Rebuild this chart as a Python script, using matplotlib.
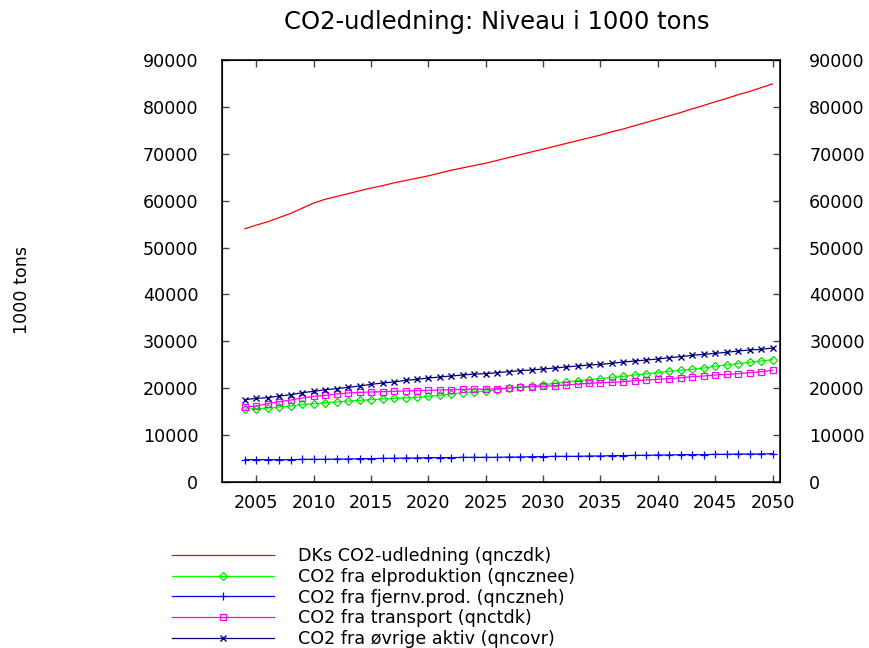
import matplotlib
matplotlib.use('Agg')
import matplotlib.pyplot as plt

plt.rcParams['font.family'] = ['DejaVu Sans']

years = list(range(2004, 2051))

# DKs CO2-udledning (qnczdk), 1000 tons
qnczdk = [54000, 54800, 55500, 56400, 57300, 58400, 59500, 60300, 60900, 61500,
          62100, 62700, 63200, 63800, 64300, 64800, 65300, 65900, 66500, 67000,
          67500, 68000, 68600, 69200, 69800, 70400, 71000, 71600, 72200, 72800,
          73400, 74000, 74700, 75300, 76000, 76700, 77400, 78100, 78800, 79600,
          80300, 81100, 81800, 82600, 83300, 84100, 84900]

# CO2 fra elproduktion (qncznee)
qncznee = [15570, 15640, 15780, 15990, 16210, 16560, 16700, 16920, 17060, 17270,
           17420, 17560, 17700, 17840, 17910, 18060, 18270, 18480, 18770, 19050,
           19260, 19410, 19690, 20050, 20260, 20470, 20760, 21040, 21330, 21610,
           21820, 22040, 22320, 22540, 22820, 23100, 23320, 23600, 23820, 24030,
           24310, 24670, 24950, 25240, 25520, 25810, 26090]

# CO2 fra fjernv.prod. (qnczneh)
qnczneh = [4760, 4760, 4760, 4760, 4760, 4830, 4830, 4830, 4900, 4900,
           4980, 4980, 5050, 5050, 5120, 5120, 5190, 5190, 5190, 5260,
           5260, 5260, 5260, 5330, 5330, 5400, 5400, 5470, 5470, 5470,
           5540, 5540, 5620, 5620, 5690, 5690, 5760, 5760, 5830, 5830,
           5830, 5900, 5900, 5970, 5970, 5970, 6040]

# CO2 fra transport (qnctdk)
qnctdk = [15990, 16210, 16710, 17130, 17490, 17910, 18270, 18480, 18770, 18980,
          19120, 19190, 19260, 19340, 19410, 19480, 19550, 19620, 19690, 19760,
          19830, 19760, 19900, 20050, 20190, 20330, 20400, 20540, 20690, 20900,
          21040, 21180, 21260, 21400, 21610, 21750, 21900, 22040, 22250, 22460,
          22610, 22820, 22960, 23100, 23320, 23530, 23820]

# CO2 fra øvrige aktiv (qncovr)
qncovr = [17560, 17840, 17980, 18340, 18620, 19050, 19340, 19690, 19900, 20190,
          20470, 20830, 21110, 21330, 21680, 21900, 22180, 22390, 22610, 22820,
          23030, 23100, 23320, 23530, 23740, 23890, 24100, 24310, 24530, 24740,
          24950, 25090, 25310, 25590, 25810, 26020, 26230, 26520, 26730, 27020,
          27230, 27440, 27660, 27940, 28150, 28290, 28580]

labels = ['DKs CO2-udledning (qnczdk)',
          'CO2 fra elproduktion (qncznee)',
          'CO2 fra fjernv.prod. (qnczneh)',
          'CO2 fra transport (qnctdk)',
          'CO2 fra øvrige aktiv (qncovr)']

xticks = list(range(2005, 2051, 5))
yticks = list(range(0, 90001, 10000))

FS = 12.6
W, H = 869, 648
fig = plt.figure(figsize=(W / 100, H / 100), dpi=100)
L, R, T, B = 222, 780, 60, 482
ax = fig.add_axes([L / W, 1 - B / H, (R - L) / W, (B - T) / H])

lw = 0.9
h1, = ax.plot(years, qnczdk, color='#ff0000', lw=lw, label=labels[0])
h2, = ax.plot(years, qncznee, color='#00ff00', lw=lw, marker='D', ms=4,
              mfc='none', mec='#00e000', mew=0.9, label=labels[1])
h3, = ax.plot(years, qnczneh, color='#0000ff', lw=lw, marker='+', ms=6,
              mew=0.9, label=labels[2])
h4, = ax.plot(years, qnctdk, color='#ff00ff', lw=lw, marker='s', ms=4,
              mfc='none', mew=0.9, label=labels[3])
h5, = ax.plot(years, qncovr, color='#000080', lw=lw, marker='x', ms=4,
              mew=1.0, label=labels[4])

ax.set_xlim(2002, 2050.65)
ax.set_ylim(0, 90000)
ax.set_xticks(xticks)
ax.set_yticks(yticks)
ax.set_xticklabels([str(x) for x in xticks])
ax.set_yticklabels([str(y) for y in yticks])
for s in ax.spines.values():
    s.set_linewidth(1.1)
ax.tick_params(axis='both', direction='in', length=5, width=1.0,
               color='#444444', labelsize=FS)
ax.tick_params(axis='x', top=True, pad=9)
ax.tick_params(axis='y', pad=17)

ax2 = ax.twinx()
ax2.set_ylim(0, 90000)
ax2.set_yticks(yticks)
ax2.set_yticklabels([str(y) for y in yticks])
ax2.tick_params(axis='y', direction='in', length=5, width=1.0,
                color='#444444', labelsize=FS, pad=21)

ax.set_ylabel('1000 tons', fontsize=FS)
ax.yaxis.set_label_coords((31 - L) / (R - L), (B - 290) / (B - T))

fig.text(497 / W, 1 - 22 / H, 'CO2-udledning: Niveau i 1000 tons',
         ha='center', va='center', fontsize=17.5)

fig.legend(handles=[h1, h2, h3, h4, h5], labels=labels,
           loc='upper left', bbox_to_anchor=(172 / W, 1 - 547 / H),
           frameon=False, fontsize=FS, handlelength=5.8, handletextpad=1.4,
           labelspacing=0.16, borderpad=0, borderaxespad=0)

fig.savefig('out.png', dpi=100)
